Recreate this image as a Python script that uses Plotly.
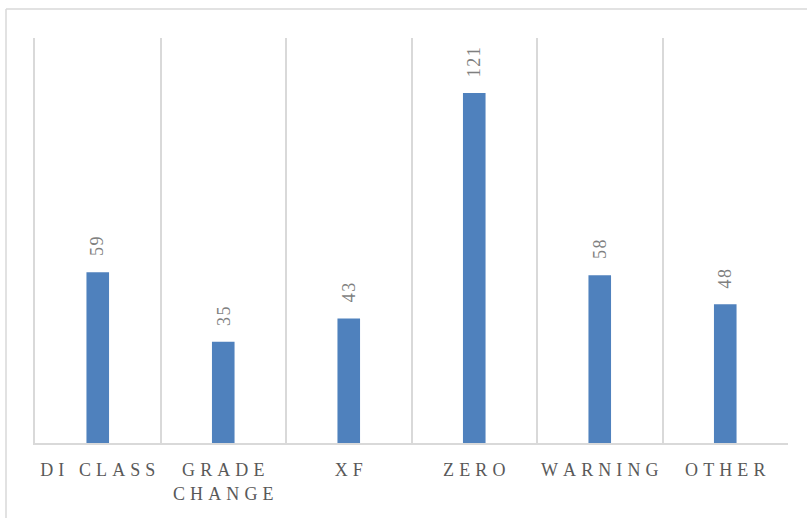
import plotly.graph_objects as go

categories = ["DI CLASS", "GRADE<br>CHANGE", "XF", "ZERO", "WARNING", "OTHER"]
values = [59, 35, 43, 121, 58, 48]

TS = "\u2009"  # thin space for letter spacing
HS = "\u200a"  # hair space

def spaced(label, sep):
    lines = label.split("<br>")
    out = []
    for ln in lines:
        words = ln.split(" ")
        out.append((sep + " " + sep).join(sep.join(w) for w in words))
    return "<br>".join(out)

tick_text = [spaced(c, TS + HS) for c in categories]
value_text = [spaced(str(v), HS) for v in values]

SERIF = "Liberation Serif, DejaVu Serif, serif"

fig = go.Figure()
fig.add_trace(go.Bar(
    x=categories,
    y=values,
    width=0.18,
    marker=dict(color="#4f81bd", line=dict(width=0)),
    hoverinfo="skip",
))

for c, v, t in zip(categories, values, value_text):
    fig.add_annotation(
        x=c, y=v, text=t, textangle=-90,
        showarrow=False, xanchor="center", yanchor="bottom",
        yshift=14,
        font=dict(family=SERIF, size=18, color="#7f7f7f"),
    )

fig.update_layout(
    width=807, height=518,
    margin=dict(l=35, r=19, t=38, b=75, autoexpand=False),
    paper_bgcolor="white",
    plot_bgcolor="white",
    showlegend=False,
    xaxis=dict(
        type="category",
        tickmode="array",
        tickvals=categories,
        ticktext=tick_text,
        tickson="boundaries",
        tickangle=0,
        automargin=False,
        showgrid=True,
        gridcolor="#d9d9d9",
        gridwidth=1.5,
        showline=True,
        linecolor="#d9d9d9",
        linewidth=1.5,
        ticks="",
        tickfont=dict(family=SERIF, size=18, color="#595959"),
        ticklabelstandoff=10,
    ),
    yaxis=dict(
        range=[0, 140],
        showgrid=False,
        showticklabels=False,
        zeroline=False,
        showline=True,
        linecolor="#d9d9d9",
        linewidth=1.5,
        ticks="",
    ),
)

# outer chart-area border (top and left visible)
fig.add_shape(type="line", xref="paper", yref="paper",
              x0=(6 - 35) / 753, x1=(6 - 35) / 753, y0=(443 - 530) / 405, y1=(443 - 9) / 405,
              line=dict(color="#d9d9d9", width=1.5))
fig.add_shape(type="line", xref="paper", yref="paper",
              x0=(6 - 35) / 753, x1=(820 - 35) / 753, y0=(443 - 9) / 405, y1=(443 - 9) / 405,
              line=dict(color="#d9d9d9", width=1.5))

fig.write_html("out.html", config={"displayModeBar": False},
               post_script="document.body.style.margin='0';")
